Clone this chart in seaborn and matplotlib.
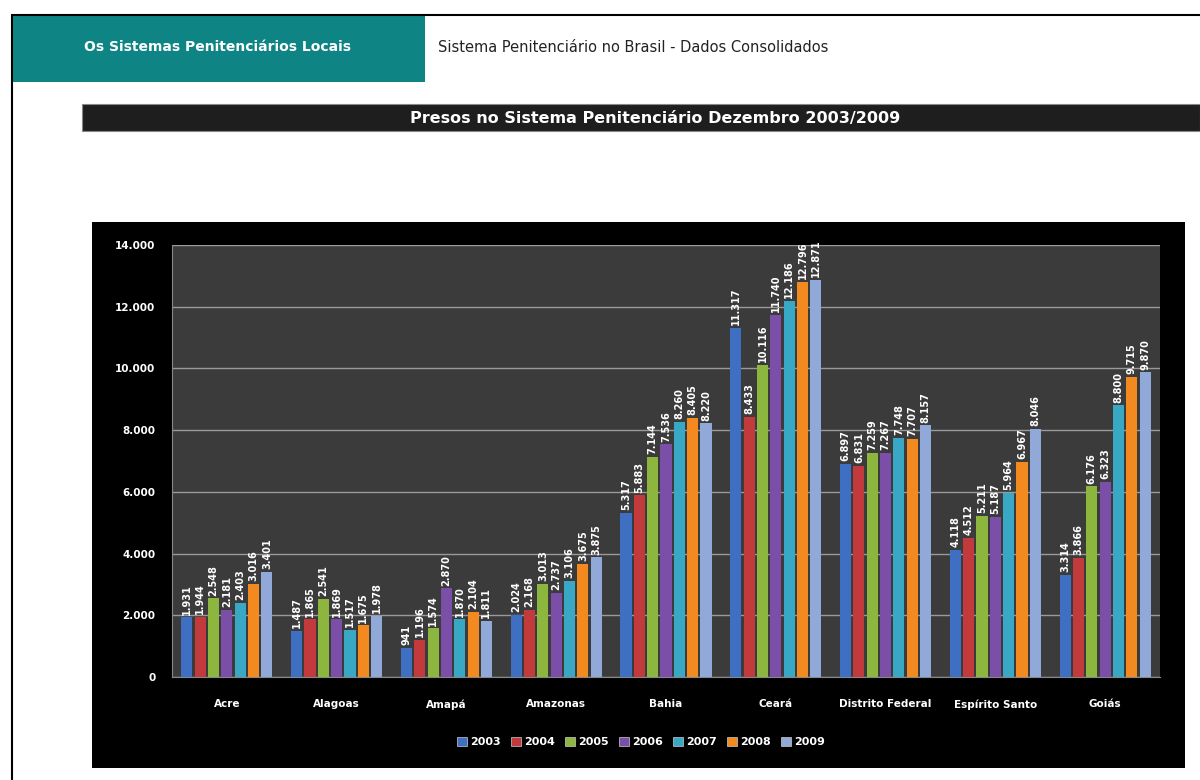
import matplotlib
matplotlib.use("Agg")
import matplotlib.pyplot as plt
import matplotlib.patches as mpatches
import numpy as np
import pandas as pd
import seaborn as sns

estados = ["Acre", "Alagoas", "Amapá", "Amazonas", "Bahia", "Ceará",
           "Distrito Federal", "Espírito Santo", "Goiás"]
anos = ["2003", "2004", "2005", "2006", "2007", "2008", "2009"]

presos_2003 = [1931, 1487, 941, 2024, 5317, 11317, 6897, 4118, 3314]
presos_2004 = [1944, 1865, 1196, 2168, 5883, 8433, 6831, 4512, 3866]
presos_2005 = [2548, 2541, 1574, 3013, 7144, 10116, 7259, 5211, 6176]
presos_2006 = [2181, 1869, 2870, 2737, 7536, 11740, 7267, 5187, 6323]
presos_2007 = [2403, 1517, 1870, 3106, 8260, 12186, 7748, 5964, 8800]
presos_2008 = [3016, 1675, 2104, 3675, 8405, 12796, 7707, 6967, 9715]
presos_2009 = [3401, 1978, 1811, 3875, 8220, 12871, 8157, 8046, 9870]

cores = ["#3e6fc2", "#c23a3c", "#8db63f", "#7b4fa8", "#39a8c5", "#f28a1f", "#90a9d9"]

series = [presos_2003, presos_2004, presos_2005, presos_2006,
          presos_2007, presos_2008, presos_2009]
rows = []
for ano, vals in zip(anos, series):
    for est, v in zip(estados, vals):
        rows.append({"Estado": est, "Ano": ano, "Presos": v})
df = pd.DataFrame(rows)


def fmt_br(v):
    return f"{int(v):,}".replace(",", ".")


sns.set_style("white")
plt.rcParams["font.family"] = ["DejaVu Sans"]

fig = plt.figure(figsize=(12, 7.8), dpi=100)
fig.patch.set_facecolor("white")

# page frame
fig.add_artist(plt.Line2D([12 / 1200, 12 / 1200], [0, 1 - 15 / 780],
                          color="black", lw=1.5, transform=fig.transFigure))
fig.add_artist(plt.Line2D([12 / 1200, 1], [1 - 15 / 780, 1 - 15 / 780],
                          color="black", lw=1.5, transform=fig.transFigure))

# teal tab
fig.add_artist(mpatches.Rectangle((12 / 1200, 1 - 82 / 780), (425 - 12) / 1200, 67 / 780,
                                  transform=fig.transFigure, facecolor="#0e8584",
                                  edgecolor="none"))
fig.text(218 / 1200, 1 - 47 / 780, "Os Sistemas Penitenciários Locais",
         color="white", fontsize=10, fontweight="bold", ha="center", va="center")
fig.text(438 / 1200, 1 - 47 / 780, "Sistema Penitenciário no Brasil - Dados Consolidados",
         color="#222222", fontsize=10.5, ha="left", va="center")

# title bar
fig.add_artist(mpatches.Rectangle((82 / 1200, 1 - 131 / 780), (1200 - 82) / 1200, 27 / 780,
                                  transform=fig.transFigure, facecolor="#1e1e1e",
                                  edgecolor="#888888", lw=0.8))
fig.text(655 / 1200, 1 - 118 / 780, "Presos no Sistema Penitenciário Dezembro 2003/2009",
         color="white", fontsize=11.5, fontweight="bold", ha="center", va="center")

# chart black box (behind the axes)
fig.add_artist(mpatches.Rectangle((92 / 1200, 1 - 768 / 780), (1185 - 92) / 1200, (768 - 222) / 780,
                                  transform=fig.transFigure, facecolor="black",
                                  edgecolor="none", zorder=-10))

ax = fig.add_axes([172 / 1200, 1 - 677 / 780, (1160 - 172) / 1200, (677 - 245) / 780])
ax.set_facecolor("#3b3b3b")

sns.barplot(data=df, x="Estado", y="Presos", hue="Ano", hue_order=anos,
            palette=cores, width=0.85, ax=ax, legend=False, saturation=1,
            edgecolor="none", zorder=3)

# small gaps between the bars of a group
for p in ax.patches:
    w = p.get_width()
    p.set_x(p.get_x() + w * 0.08)
    p.set_width(w * 0.84)

for cont in ax.containers:
    ax.bar_label(cont, labels=[fmt_br(v) for v in cont.datavalues], rotation=90,
                 color="white", fontsize=7, fontweight="bold", padding=2)

ax.set_ylim(0, 14000)
ax.set_yticks(np.arange(0, 14001, 2000))
ax.set_yticklabels([fmt_br(v) for v in np.arange(0, 14001, 2000)])
ax.set_xlim(-0.5, len(estados) - 0.5)
ax.grid(axis="y", color="#9a9a9a", lw=1, zorder=0)
ax.set_axisbelow(True)
ax.set_xlabel("")
ax.set_ylabel("")
ax.tick_params(axis="both", colors="white", labelsize=7.5, length=0, pad=12)
ax.tick_params(axis="x", pad=16)
for lbl in ax.get_xticklabels() + ax.get_yticklabels():
    lbl.set_fontweight("bold")
ax.set_xticks(np.arange(-0.5, len(estados), 1), minor=True)
ax.tick_params(axis="x", which="minor", length=5, color="#888888")
for s in ax.spines.values():
    s.set_visible(False)
ax.spines["left"].set_visible(True)
ax.spines["left"].set_color("#888888")
ax.spines["bottom"].set_visible(True)
ax.spines["bottom"].set_color("#888888")

handles = [mpatches.Patch(facecolor=c, edgecolor="#cccccc", lw=0.5, label=a)
           for c, a in zip(cores, anos)]
leg = fig.legend(handles=handles, loc="center", bbox_to_anchor=(641 / 1200, 1 - 742 / 780),
                 ncol=7, frameon=False, fontsize=8, handlelength=0.9, handleheight=0.9,
                 handletextpad=0.3, columnspacing=0.9)
for t in leg.get_texts():
    t.set_color("white")
    t.set_fontweight("bold")

fig.savefig("out.png", dpi=100, facecolor=fig.get_facecolor())
